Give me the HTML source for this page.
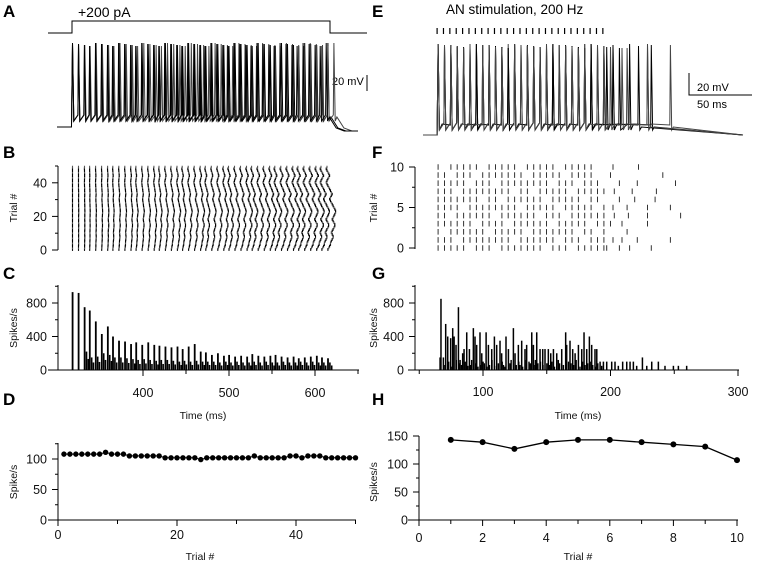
<!DOCTYPE html>
<html><head><meta charset="utf-8"><style>
html,body{margin:0;padding:0;background:#fff;}
svg{display:block;font-family:"Liberation Sans",Arial,sans-serif;}
.tk{font-size:12.5px;fill:#111;}
.ti{font-size:10.5px;fill:#111;}
.lt{font-size:17px;font-weight:bold;fill:#000;}
</style></head><body>
<svg id="fig" width="758" height="572" viewBox="0 0 758 572" xmlns="http://www.w3.org/2000/svg">
<g id="static">
<text class="lt" x="3" y="17">A</text>
<text class="lt" x="3" y="158">B</text>
<text class="lt" x="3" y="279">C</text>
<text class="lt" x="3" y="405">D</text>
<text class="lt" x="372" y="17">E</text>
<text class="lt" x="372" y="158">F</text>
<text class="lt" x="372" y="279">G</text>
<text class="lt" x="372" y="405">H</text>
<text x="78" y="17" font-size="14">+200 pA</text>
<text x="446" y="14" font-size="13.5">AN stimulation, 200 Hz</text>
<text x="332" y="85" font-size="11">20 mV</text>
<line x1="367" y1="75" x2="367" y2="91" stroke="#000" stroke-width="1"/>
<path d="M689 73 V95 H752" fill="none" stroke="#000" stroke-width="1"/>
<text x="697" y="91" font-size="11">20 mV</text>
<text x="697" y="108" font-size="11">50 ms</text>
<text class="ti" transform="translate(17,208) rotate(-90)" text-anchor="middle">Trial #</text>
<text class="ti" transform="translate(17,328) rotate(-90)" text-anchor="middle">Spikes/s</text>
<text class="ti" transform="translate(17,482) rotate(-90)" text-anchor="middle">Spike/s</text>
<text class="ti" transform="translate(377,208) rotate(-90)" text-anchor="middle">Trial #</text>
<text class="ti" transform="translate(377,328) rotate(-90)" text-anchor="middle">Spikes/s</text>
<text class="ti" transform="translate(377,482) rotate(-90)" text-anchor="middle">Spikes/s</text>
<text class="ti" x="203" y="419" text-anchor="middle">Time (ms)</text>
<text class="ti" x="578" y="419" text-anchor="middle">Time (ms)</text>
<text class="ti" x="200" y="560" text-anchor="middle">Trial #</text>
<text class="ti" x="578" y="560" text-anchor="middle">Trial #</text>
</g>
<g id="dyn"></g>
</svg>
<script>
// ---- Data ----
var baseSpikeTimes = [318,325,332,338,345,352,359,365,372,379,386,392,399,406,413,419,426,433,440,446,453,460,467,473,480,487,494,500,507,514,521,527,534,541,548,554,561,568,575,581,588,595,602,608,615];
var trialDrift = [0,1,2,3,3,4,5,6,6,5,4,5,6,7,8,8,7,6,5,6,7,8,9,9,8,7,6,5,4,3,2,3,4,5,4,3,2,1,0,-1,-2,-1,0,1,2,1,0,-1,-2,-1];
var peakRates = [930,920,750,710,580,430,520,400,350,340,310,330,300,330,300,290,280,270,280,250,280,310,220,210,180,200,170,180,160,170,160,190,170,160,170,180,160,150,160,140,150,160,170,150,140];
var sideRates = [0,0,220,150,160,200,180,150,150,140,130,120,130,120,110,120,120,110,100,110,100,110,100,100,100,90,100,90,100,90,90,100,90,100,90,90,100,90,90,100,90,100,90,90,90];
var rateD = [108,108,108,108,108,108,108,111,108,108,108,105,105,105,105,105,105,102,102,102,102,102,102,99,102,102,102,102,102,102,102,102,105,102,102,102,102,102,105,105,102,105,105,105,102,102,102,102,102,102];
var trialsD = [1,2,3,4,5,6,7,8,9,10,11,12,13,14,15,16,17,18,19,20,21,22,23,24,25,26,27,28,29,30,31,32,33,34,35,36,37,38,39,40,41,42,43,44,45,46,47,48,49,50];
var rateH = [143,139,127,139,143,143,139,135,131,107];
var trialsH = [1,2,3,4,5,6,7,8,9,10];
var stimTimes = [64,69,74,79,84,89,94,99,104,109,114,119,124,129,134,139,144,149,154,159,164,169,174,179,184,189,194];
var fSkips = [[5,9,17,21],[3,12,19,23],[1,8,14,22,25],[6,11,18,24],[2,9,16,20],[4,13,19,25],[7,10,17,23,26],[3,12,15,21],[5,9,18,22,26],[2,6,14,20,25,26],[1,7,13,19,25,26]];
var fLate = [[197,207,215,232],[202,209,221,247],[213],[200,209,229],[203,214,229,255],[202,213,229,247],[207,219,235],[203,217,236],[207,221,251],[200,241],[202,222]];
var gTimes = [66.3,67,68.9,70.7,72.3,74.6,76.2,77.3,78.8,80.7,82,84,85.1,87.2,89.3,92.4,93.7,95,97.6,99,102.4,104.2,106.8,108.9,110.7,113.3,114.6,118,119.9,123.8,125.1,127.7,130.3,132.9,134.2,138.2,139.5,142.1,144.7,146.8,148.6,151.2,153.1,155.2,157.8,161.7,164.8,165.6,168.2,170.3,172.2,174.8,177.4,179.2,181.3,183.4,185.2,187.8,189.2,191.8,194.4,197,200.9,203.5,206.1,209.5,212.7,215.3,217.9,220.5,225,228.4,232.3,237.5,242.7,249.3,253.2,259.7];
var gRates = [150,850,150,550,400,380,500,400,300,750,120,200,250,450,250,500,400,300,450,200,450,300,250,400,300,350,200,400,250,500,200,300,350,250,300,450,300,450,250,250,250,250,200,250,200,250,450,300,350,250,200,300,250,450,250,400,300,250,250,100,100,100,100,100,50,100,100,100,100,50,150,50,100,100,50,50,50,50];
var gFillTimes = [70,73,75,79,81,83,86,88,90,91,94,96,98,100,101,103,105,107,109,112,115,116,117,121,122,126,128,129,131,133,136,137,140,141,143,145,147,150,152,154,156,159,160,163,167,169,171,173,176,178,180,182,184,186,188,190,193];
var gFillRates = [60,100,40,120,80,60,100,50,60,120,80,40,60,100,80,40,60,120,50,80,100,60,40,80,120,60,100,60,40,120,100,80,60,120,80,100,60,80,60,100,40,120,80,60,100,80,60,120,40,100,60,80,100,60,40,80,50];
var yTicksC = [0,400,800], xTicksC = [400,500,600];
var yTicksD = [0,50,100], xTicksD = [0,20,40];
var yTicksB = [0,20,40];
var yTicksF = [0,5,10];
var yTicksG = [0,400,800], xTicksG = [100,200,300];
var yTicksH = [0,50,100,150], xTicksH = [0,2,4,6,8,10];

// ---- Scales ----
function xC(t){return 143+(t-400)*0.86;}
function yC(v){return 370-v*0.08375;}
function yB(n){return 250-n*1.68;}
function xD(n){return 58+n*5.95;}
function yD(v){return 520-v*0.61;}
function xG(t){return 483+(t-100)*1.275;}
function yG(v){return 370-v*0.08375;}
function yF(r){return 248-r*8.1;}
function xH(n){return 419+n*31.8;}
function yH(v){return 520-v*0.56;}

var NS='http://www.w3.org/2000/svg';
var root=document.getElementById('dyn');
function mk(tag,attrs,parent){var e=document.createElementNS(NS,tag);for(var k in attrs)e.setAttribute(k,attrs[k]);(parent||root).appendChild(e);return e;}
function grp(){var g=document.createElementNS(NS,'g');root.appendChild(g);return g;}

function trialTimes(j){
  var out=[];
  for(var k=0;k<baseSpikeTimes.length;k++){out.push(baseSpikeTimes[k]+trialDrift[j]*k/44);}
  return out;
}

// ---- Panel A ----
var gA=grp();


var step=mk('path',{d:'M48 33 H72 V21 H330 V33 H367',fill:'none',stroke:'#000','stroke-width':1},gA);


function tracePathA(times){
  var d='M57 127 L'+(xC(times[0])-1)+' 127';
  for(var i=0;i<times.length;i++){
    var x=xC(times[i]);
    d+=' L'+x.toFixed(1)+' '+(43+(i%4))+' L'+(x+1.3).toFixed(1)+' 121';
    if(i<times.length-1){d+=' L'+(xC(times[i+1])-0.6).toFixed(1)+' 115';}
  }
  var xl=xC(times[times.length-1]);
  d+=' L'+(xl+3)+' 117 L'+(xl+10)+' 128 L'+(xl+18)+' 131 L358 131';
  return d;
}
[0,20,40].forEach(function(j,idx){
  var p=mk('path',{d:tracePathA(trialTimes(j)),fill:'none',stroke:idx==1?'#444':'#000','stroke-width':1},gA);
  
  
});

// ---- Axes helper ----
function axisY(g,x,ys,labels,minor,name){
  var ln=mk('line',{x1:x,y1:ys.bottom,x2:x,y2:ys.top,stroke:'#000','stroke-width':1},g);
  
  
  labels.forEach(function(o){
    mk('line',{x1:x-6,y1:o.y,x2:x,y2:o.y,stroke:'#000','stroke-width':1},g);
    var t=mk('text',{x:x-11,y:o.y+4.5,'text-anchor':'end','class':'tk'},g);
    t.textContent=o.t;
    
    
  });
  minor.forEach(function(y){mk('line',{x1:x-3,y1:y,x2:x,y2:y,stroke:'#000','stroke-width':1},g);});
}
function axisX(g,y,x1,x2,labels,minor,name,off){
  var ln=mk('line',{x1:x1,y1:y,x2:x2,y2:y,stroke:'#000','stroke-width':1},g);
  
  
  labels.forEach(function(o){
    mk('line',{x1:o.x,y1:y,x2:o.x,y2:y+6,stroke:'#000','stroke-width':1},g);
    var t=mk('text',{x:o.x,y:y+off,'text-anchor':'middle','class':'tk'},g);
    t.textContent=o.t;
    
    
  });
  minor.forEach(function(x){mk('line',{x1:x,y1:y,x2:x,y2:y+4,stroke:'#000','stroke-width':1},g);});
}

// ---- Panel B ----
var gB=grp();


axisY(gB,58,{bottom:250,top:166},yTicksB.map(function(v){return{y:yB(v),t:v};}),[yB(10),yB(30),yB(50)],'b');
for(var j=0;j<50;j++){
  var tt=trialTimes(j);var d='';
  for(var k=0;k<tt.length;k++){var x=xC(tt[k]);d+='M'+x.toFixed(1)+' '+(yB(j)+0.9).toFixed(1)+'V'+(yB(j+1)-0.2).toFixed(1);}
  var p=mk('path',{d:d,stroke:j%3==1?'#555':'#000','stroke-width':1.1},gB);
  
  
}

// ---- Panel C ----
var gC=grp();


for(var i=0;i<baseSpikeTimes.length;i++){
  var x=xC(baseSpikeTimes[i]);
  var r=mk('rect',{x:x-0.8,y:yC(peakRates[i]),width:1.8,height:370-yC(peakRates[i]),fill:'#000'},gC);
  
  
  var r2=mk('rect',{x:x+1.2,y:yC(sideRates[i]),width:1.6,height:370-yC(sideRates[i]),fill:'#000'},gC);
  
  
  var r3=mk('rect',{x:x+3,y:yC(sideRates[i]*0.6),width:1.6,height:370-yC(sideRates[i]*0.6),fill:'#000'},gC);
  
  
}
axisY(gC,58,{bottom:370,top:285},yTicksC.map(function(v){return{y:yC(v),t:v};}),[yC(200),yC(600),yC(1000)],'c');
axisX(gC,370,48,359,xTicksC.map(function(v){return{x:xC(v),t:v};}),[xC(450),xC(550),xC(650)],'c',27);

// ---- Panel D ----
var gD=grp();


axisY(gD,58,{bottom:520,top:443},yTicksD.map(function(v){return{y:yD(v),t:v};}),[yD(25),yD(75),yD(125)],'d');
axisX(gD,520,48,356,xTicksD.map(function(v){return{x:xD(v),t:v};}),[xD(10),xD(30),xD(50)],'d',19);
var ld='';trialsD.forEach(function(n,i){ld+=(i?'L':'M')+xD(n).toFixed(1)+' '+yD(rateD[i]).toFixed(1);});
var lineD=mk('path',{d:ld,fill:'none',stroke:'#000','stroke-width':1},gD);


trialsD.forEach(function(n,i){
  var c=mk('circle',{cx:xD(n),cy:yD(rateD[i]),r:2.7,fill:'#000'},gD);
  
  
});

// ---- Panel E ----
var gE=grp();


stimTimes.forEach(function(t){
  var s=mk('line',{x1:xG(t),y1:28,x2:xG(t),y2:34,stroke:'#000','stroke-width':1.2},gE);
  
  
});
function rowTimes(r){
  var out=[];
  stimTimes.forEach(function(t,i){if(fSkips[r].indexOf(i)<0)out.push(t+0.8);});
  return out.concat(fLate[r]);
}
function tracePathE(times){
  var d='M423 135 L'+(xG(times[0])-1).toFixed(1)+' 135';
  for(var i=0;i<times.length;i++){
    var x=xG(times[i]);
    d+=' L'+x.toFixed(1)+' '+(44+(i%5))+' L'+(x+1.3).toFixed(1)+' 130';
    if(i<times.length-1){
      var nx=xG(times[i+1]);
      if(times[i+1]-times[i]>8){d+=' L'+(x+4).toFixed(1)+' 124 L'+(nx-0.6).toFixed(1)+' 125';}
      else d+=' L'+(nx-0.6).toFixed(1)+' 123';
    }
  }
  var xl=xG(times[times.length-1]);
  d+=' L'+(xl+3).toFixed(1)+' 127 L743 135';
  return d;
}
[0,5,10,3].forEach(function(r,idx){
  var p=mk('path',{d:tracePathE(rowTimes(r)),fill:'none',stroke:idx%2?'#444':'#000','stroke-width':1},gE);
  
  
});

// ---- Panel F ----
var gF=grp();


axisY(gF,415,{bottom:249,top:167},yTicksF.map(function(v){return{y:yF(v),t:v};}),[yF(2.5),yF(7.5)],'f');
for(var r=0;r<11;r++){
  var tt=rowTimes(r);var d='';
  tt.forEach(function(t){var x=xG(t);d+='M'+x.toFixed(1)+' '+(yF(r)+2.8).toFixed(1)+'V'+(yF(r)-2.8).toFixed(1);});
  var p=mk('path',{d:d,stroke:'#333','stroke-width':1},gF);
  
  
}

// ---- Panel G ----
var gG=grp();


gFillTimes.forEach(function(t,i){
  var rr=mk('rect',{x:xG(t)-0.6,y:yG(gFillRates[i]),width:1.4,height:370-yG(gFillRates[i]),fill:'#000'},gG);
  
  
});
gTimes.forEach(function(t,i){
  var rr=mk('rect',{x:xG(t)-0.7,y:yG(gRates[i]),width:1.5,height:370-yG(gRates[i]),fill:'#000'},gG);
  
  
});
axisY(gG,415,{bottom:370,top:285},yTicksG.map(function(v){return{y:yG(v),t:v};}),[yG(200),yG(600),yG(1000)],'g');
axisX(gG,370,408,739,xTicksG.map(function(v){return{x:xG(v),t:v};}),[xG(50),xG(150),xG(250)],'g',26);

// ---- Panel H ----
var gH=grp();


axisY(gH,419,{bottom:520,top:436},yTicksH.map(function(v){return{y:yH(v),t:v};}),[yH(25),yH(75),yH(125)],'h');
axisX(gH,520,408,738,xTicksH.map(function(v){return{x:xH(v),t:v};}),[xH(1),xH(3),xH(5),xH(7),xH(9)],'h',22);
var lh='';trialsH.forEach(function(n,i){lh+=(i?'L':'M')+xH(n).toFixed(1)+' '+yH(rateH[i]).toFixed(1);});
var lineH=mk('path',{d:lh,fill:'none',stroke:'#000','stroke-width':1.3},gH);


trialsH.forEach(function(n,i){
  var c=mk('circle',{cx:xH(n),cy:yH(rateH[i]),r:3,fill:'#000'},gH);
  
  
});
</script>
</body></html>
